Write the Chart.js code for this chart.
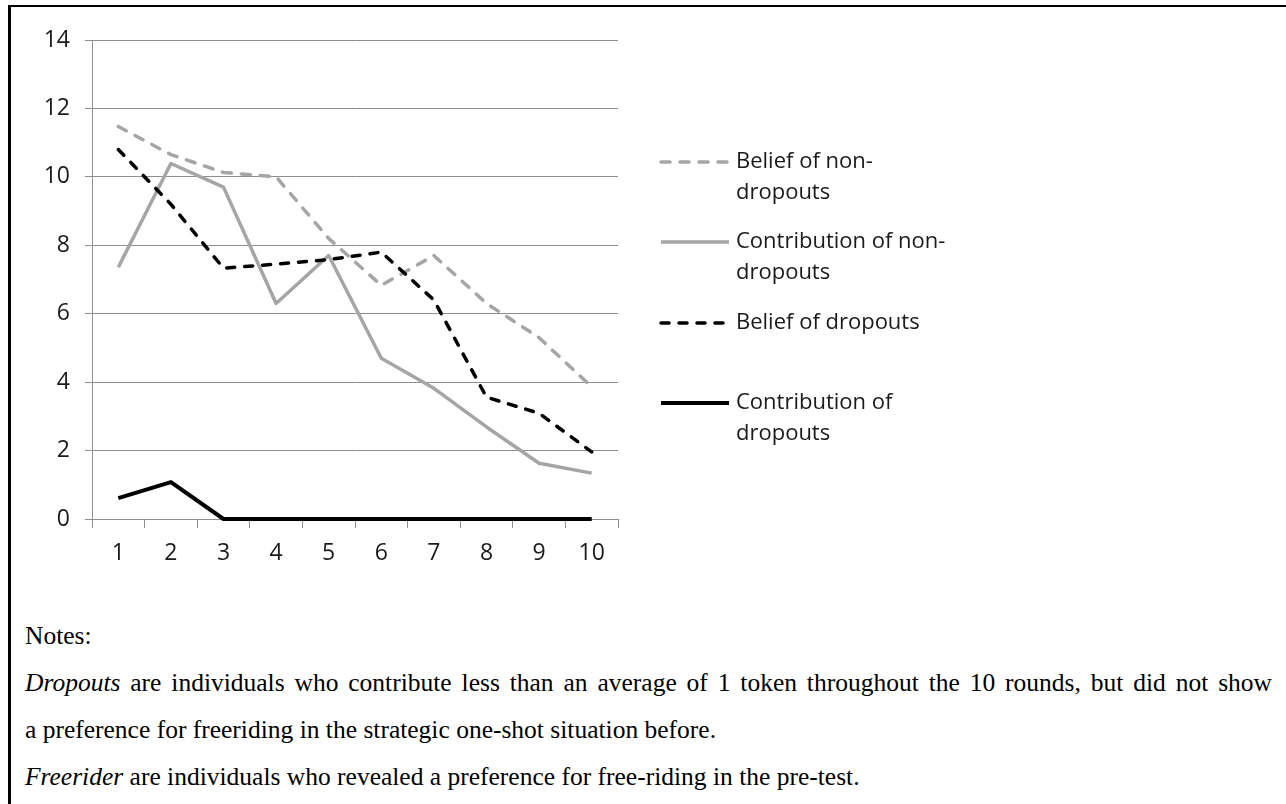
<!DOCTYPE html>
<html>
<head>
<meta charset="utf-8">
<title>Beliefs and contributions</title>
<script src="https://cdn.jsdelivr.net/npm/chart.js@4.4.1/dist/chart.umd.min.js"></script>
<style>
    body { margin: 0; background: #fff; width: 1286px; height: 804px; overflow: hidden; position: relative; }
    #frame { position: absolute; left: 8px; top: 5px; width: 1290px; height: 810px; border-top: 2px solid #000; border-left: 3px solid #000; }
    #fig { position: absolute; left: 0; top: 0; }
    #notes { position: absolute; left: 25px; top: 612px; width: 1247px; font-family: "Liberation Serif", "Times New Roman", serif; font-size: 25.5px; line-height: 47px; color: #000; }
    #notes .just { text-align: justify; text-align-last: justify; }
</style>
</head>
<body>
<div id="frame"></div>
<canvas id="fig" width="1286" height="575" style="width:1286px;height:575px"></canvas>
<div id="notes">
    <div>Notes:</div>
    <div class="just"><i>Dropouts</i> are individuals who contribute less than an average of 1 token throughout the 10 rounds, but did not show</div>
    <div>a preference for freeriding in the strategic one-shot situation before.</div>
    <div><i>Freerider</i> are individuals who revealed a preference for free-riding in the pre-test.</div>
</div>
<script>
// rounds 1..10
const rounds = ['1', '2', '3', '4', '5', '6', '7', '8', '9', '10'];
const yTicks = [0, 2, 4, 6, 8, 10, 12, 14];

const beliefNonDropouts = [11.47, 10.65, 10.13, 10.0, 8.2, 6.83, 7.7, 6.3, 5.3, 3.86];
const contribNonDropouts = [7.36, 10.39, 9.7, 6.3, 7.7, 4.7, 3.82, 2.69, 1.63, 1.34];
const beliefDropouts = [10.8, 9.2, 7.33, 7.45, 7.58, 7.8, 6.4, 3.56, 3.09, 1.96];
const contribDropouts = [0.61, 1.08, 0, 0, 0, 0, 0, 0, 0, 0];

// legend text, wrapped like the original
const legendLines = [
    ['Belief of non-', 'dropouts'],
    ['Contribution of non-', 'dropouts'],
    ['Belief of dropouts'],
    ['Contribution of', 'dropouts']
];

const GRAY = '#a5a5a5';
const GRID = '#8e8e8e';
const FONT = '"Open Sans", "Noto Sans", sans-serif';

function joinLabel(lines) {
    return lines.reduce((s, l) => s === '' ? l : (s.endsWith('-') ? s + l : s + ' ' + l), '');
}

// hand-drawn legend, so the labels wrap like in the source
const sideLegend = {
    id: 'sideLegend',
    afterDraw(chart) {
        const ctx = chart.ctx;
        const itemY = [162, 242, 323, 403];
        chart.data.datasets.forEach((ds, i) => {
            const y = itemY[i];
            ctx.save();
            ctx.strokeStyle = ds.borderColor;
            ctx.lineWidth = ds.borderWidth;
            ctx.lineCap = ds.borderCapStyle || 'butt';
            ctx.setLineDash(ds.borderDash || []);
            ctx.beginPath();
            ctx.moveTo(661, y);
            ctx.lineTo(729, y);
            ctx.stroke();
            ctx.restore();

            ctx.save();
            ctx.fillStyle = '#1a1a1a';
            ctx.font = '22px ' + FONT;
            ctx.textBaseline = 'middle';
            ctx.textAlign = 'left';
            legendLines[i].forEach((line, k) => ctx.fillText(line, 736, y + k * 31));
            ctx.restore();
        });
    }
};

const ctx = document.getElementById('fig').getContext('2d');
new Chart(ctx, {
    type: 'line',
    data: {
        labels: rounds,
        datasets: [
            {
                label: joinLabel(legendLines[0]),
                data: beliefNonDropouts,
                borderColor: GRAY,
                borderWidth: 3.5,
                borderDash: [9, 10],
                borderCapStyle: 'round',
                order: 4
            },
            {
                label: joinLabel(legendLines[1]),
                data: contribNonDropouts,
                borderColor: GRAY,
                borderWidth: 3.5,
                order: 3
            },
            {
                label: joinLabel(legendLines[2]),
                data: beliefDropouts,
                borderColor: '#000',
                borderWidth: 3.5,
                borderDash: [8, 10],
                borderCapStyle: 'round',
                order: 2
            },
            {
                label: joinLabel(legendLines[3]),
                data: contribDropouts,
                borderColor: '#000',
                borderWidth: 4,
                order: 1
            }
        ]
    },
    options: {
        responsive: false,
        devicePixelRatio: 1,
        animation: false,
        clip: false,
        layout: {
            padding: { left: 0, top: 40, right: 668, bottom: 0 }
        },
        elements: {
            point: { radius: 0, hoverRadius: 0 },
            line: { tension: 0, borderJoinStyle: 'round' }
        },
        plugins: {
            legend: { display: false },
            tooltip: { enabled: false }
        },
        scales: {
            x: {
                type: 'category',
                offset: true,
                grid: {
                    drawOnChartArea: false,
                    drawTicks: true,
                    tickLength: 9,
                    color: GRID,
                    offset: true
                },
                border: { display: true, color: GRID },
                ticks: {
                    color: '#1a1a1a',
                    font: { family: FONT, size: 23 },
                    padding: 12,
                    maxRotation: 0
                },
                afterFit(scale) { scale.height = 56; }
            },
            y: {
                min: 0,
                max: 14,
                afterBuildTicks(scale) { scale.ticks = yTicks.map(v => ({ value: v })); },
                grid: {
                    color: GRID,
                    tickLength: 7,
                    drawTicks: true
                },
                border: { display: true, color: GRID },
                ticks: {
                    color: '#1a1a1a',
                    font: { family: FONT, size: 23 },
                    padding: 15
                },
                afterFit(scale) { scale.width = 92; }
            }
        }
    },
    plugins: [sideLegend]
});
</script>
</body>
</html>
